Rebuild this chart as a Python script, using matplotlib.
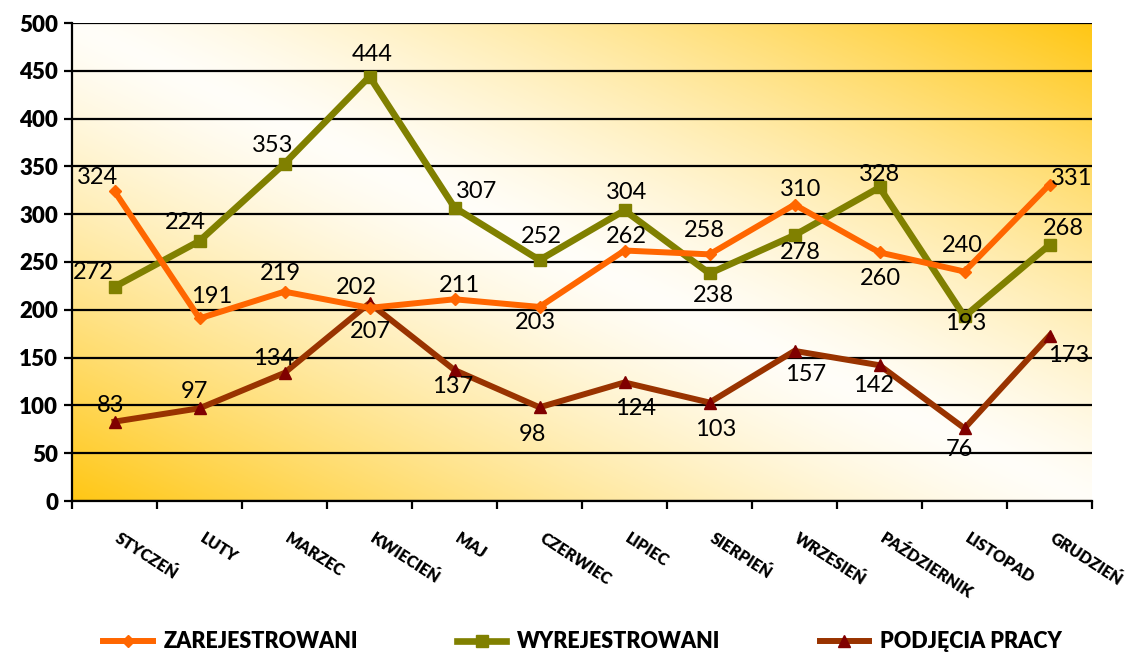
import numpy as np
import matplotlib
matplotlib.use('Agg')
import matplotlib.pyplot as plt
from matplotlib.transforms import ScaledTranslation

miesiace = ['STYCZEŃ', 'LUTY', 'MARZEC', 'KWIECIEŃ', 'MAJ', 'CZERWIEC', 'LIPIEC',
            'SIERPIEŃ', 'WRZESIEŃ', 'PAŹDZIERNIK', 'LISTOPAD', 'GRUDZIEŃ']
zarejestrowani = [324, 191, 219, 202, 211, 203, 262, 258, 310, 260, 240, 331]
wyrejestrowani = [224, 272, 353, 444, 307, 252, 304, 238, 278, 328, 193, 268]
podjecia = [83, 97, 134, 207, 137, 98, 124, 103, 157, 142, 76, 173]

# etykiety tak jak na wykresie (pierwsze dwie zamienione)
etykiety_wyrej = ['272', '224', '353', '444', '307', '252', '304', '238', '278', '328', '193', '268']

# przesuniecia etykiet w pikselach
off_zarej = [(-17, 14), (12, 22), (-4, 18), (-13, 20), (5, 14), (-4, -16),
             (2, 14), (-5, 24), (6, 15), (1, -26), (-2, 26), (22, 6)]
off_wyrej = [(-21, 14), (-14, 18), (-12, 18), (3, 22), (22, 16), (2, 24),
             (2, 18), (4, -22), (6, -17), (0, 13), (1, -7), (14, 16)]
off_podj = [(-4, 16), (-5, 17), (-11, 14), (1, -28), (-2, -16), (-7, -27),
            (11, -26), (6, -27), (11, -24), (-6, -20), (-5, -21), (19, -20)]

plt.rcParams['font.family'] = ['Lato', 'DejaVu Sans']

fig = plt.figure(figsize=(11.31, 6.57), dpi=100)
ax = fig.add_axes([72 / 1131, 1 - 501 / 657, 1020 / 1131, 478 / 657])

# tlo - gradient
gold = np.array([1.0, 0.78, 0.08])
white = np.array([1.0, 0.995, 0.975])
u, v = np.meshgrid(np.linspace(0, 1, 400), np.linspace(0, 1, 300))
t = np.abs(u + v - 1.0) ** 1.3
img = white * (1 - t[..., None]) + gold * t[..., None]
ax.imshow(img, extent=[0, 1, 0, 1], transform=ax.transAxes, origin='lower',
          aspect='auto', zorder=0)

x = np.arange(len(miesiace))
ax.plot(x, zarejestrowani, color='#FF6600', lw=4.3, marker='D', ms=6,
        label='ZAREJESTROWANI', zorder=4)
ax.plot(x, wyrejestrowani, color='#808000', lw=4.8, marker='s', ms=9,
        label='WYREJESTROWANI', zorder=3)
ax.plot(x, podjecia, color='#993300', lw=4.3, marker='^', ms=9, mfc='#800000',
        mec='#800000', label='PODJĘCIA PRACY', zorder=3)

for seria, teksty, offs in [(zarejestrowani, [str(w) for w in zarejestrowani], off_zarej),
                            (wyrejestrowani, etykiety_wyrej, off_wyrej),
                            (podjecia, [str(w) for w in podjecia], off_podj)]:
    for i, (w, txt) in enumerate(zip(seria, teksty)):
        ax.annotate(txt, (x[i], w), xytext=offs[i], textcoords='offset pixels',
                    ha='center', va='center', fontsize=17, color='black', zorder=6)

ax.set_xlim(-0.5, 11.5)
ax.set_ylim(0, 500)
ax.set_yticks(np.arange(0, 501, 50))
ax.yaxis.grid(True, color='black', lw=1.6)
ax.set_axisbelow(False)
for gl in ax.get_ygridlines():
    gl.set_zorder(1)
ax.tick_params(axis='y', length=6, width=1.6, labelsize=16, pad=4)
for lab in ax.get_yticklabels():
    lab.set_fontweight('heavy')

ax.set_xticks(np.arange(-0.5, 12, 1))
ax.set_xticklabels([])
ax.tick_params(axis='x', length=6, width=1.6, direction='out')

off = ScaledTranslation(6 / 100, -29 / 100, fig.dpi_scale_trans)
for i, m in enumerate(miesiace):
    ax.text(x[i], 0, m, transform=ax.get_xaxis_transform() + off, rotation=-33,
            rotation_mode='anchor', ha='left', va='top', fontsize=11.5,
            fontweight='heavy')

for s in ['top', 'right']:
    ax.spines[s].set_visible(False)
for s in ['left', 'bottom']:
    ax.spines[s].set_linewidth(1.6)
    ax.spines[s].set_zorder(5)

leg = fig.legend(loc='center', bbox_to_anchor=(0.515, 1 - 642 / 657), ncol=3,
                 frameon=False, handlelength=2.3, columnspacing=4.6,
                 handletextpad=0.5, prop={'weight': 'heavy', 'size': 15.5})

fig.savefig('out.png', dpi=100)
